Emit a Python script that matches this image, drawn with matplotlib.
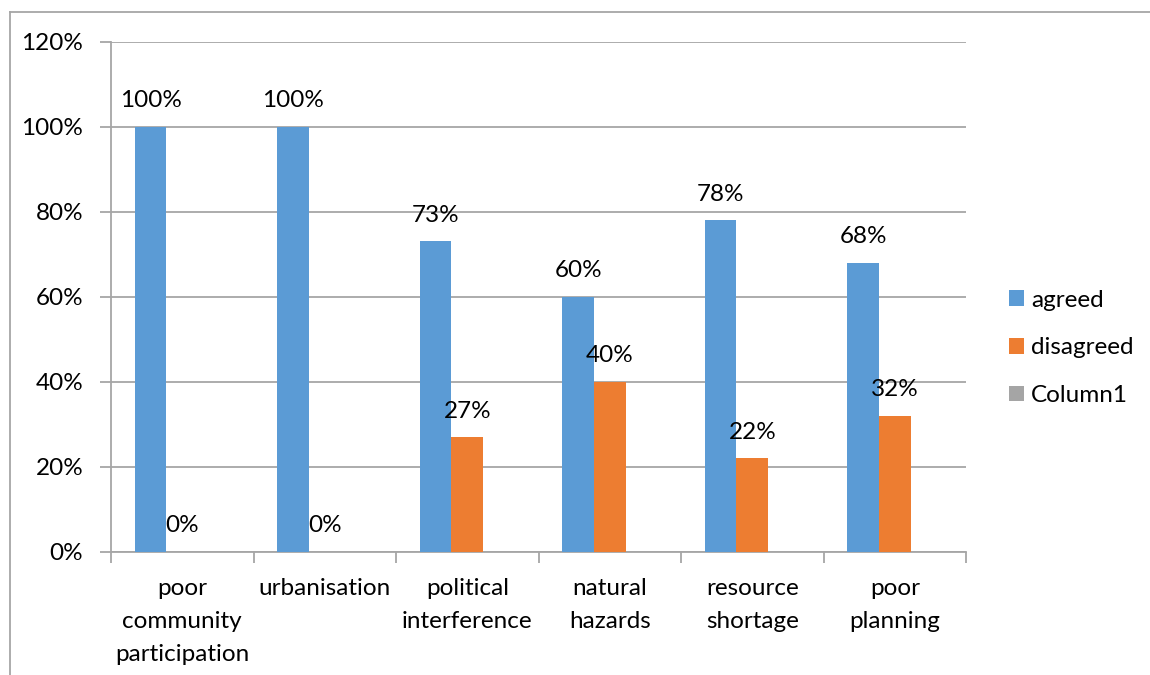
import matplotlib
matplotlib.use("Agg")
import matplotlib.pyplot as plt
from matplotlib.lines import Line2D
from matplotlib.patches import Patch
import numpy as np

plt.rcParams['font.family'] = ['Lato', 'DejaVu Sans']

categories = ["poor\ncommunity\nparticipation", "urbanisation", "political\ninterference",
              "natural\nhazards", "resource\nshortage", "poor\nplanning"]
agreed = [1.00, 1.00, 0.73, 0.60, 0.78, 0.68]
disagreed = [0.00, 0.00, 0.27, 0.40, 0.22, 0.32]
column1 = [0, 0, 0, 0, 0, 0]
series_names = ["agreed", "disagreed", "Column1"]
colors = ["#5B9BD5", "#ED7D31", "#A5A5A5"]
yticks = [0, 0.2, 0.4, 0.6, 0.8, 1.0, 1.2]

FS = 17.5
W, H = 1150, 675
fig = plt.figure(figsize=(W / 100, H / 100), dpi=100)
ax = fig.add_axes([111 / W, 1 - 552 / H, (966 - 111) / W, (552 - 41.5) / H])

x = np.arange(len(categories))
bw = 1 / 4.5
for i, (vals, col) in enumerate(zip([agreed, disagreed, column1], colors)):
    pos = x + (i - 1) * bw
    ax.bar(pos, vals, width=bw, color=col, linewidth=0, zorder=3)
    if i < 2:
        for px, v in zip(pos, vals):
            ax.annotate(f"{v * 100:.0f}%", (px, v), xytext=(0, 26), textcoords="offset pixels",
                        ha="center", va="center", fontsize=FS, color="black", zorder=5)

ax.set_xlim(-0.5, len(categories) - 0.5)
ax.set_ylim(0, 1.2)
ax.set_yticks(yticks)
ax.set_yticklabels([f"{t * 100:.0f}%" for t in yticks], fontsize=FS)
ax.yaxis.grid(True, color="#A6A6A6", linewidth=1.3, zorder=0)
ax.set_axisbelow(True)

ax.set_xticks(x)
ax.set_xticklabels(categories, fontsize=FS, linespacing=1.68)
ax.set_xticks(np.arange(-0.5, len(categories)), minor=True)
ax.tick_params(axis="x", which="major", length=0, pad=19)
ax.tick_params(axis="x", which="minor", length=8, width=1.3, color="#A6A6A6", direction="out")
ax.tick_params(axis="y", length=8, width=1.3, color="#A6A6A6", pad=12)

for s in ["top", "right"]:
    ax.spines[s].set_visible(False)
for s in ["left", "bottom"]:
    ax.spines[s].set_color("#A6A6A6")
    ax.spines[s].set_linewidth(1.3)

# outer chart border
fig.add_artist(Line2D([9.5 / W, 9.5 / W], [0, 1 - 12 / H], transform=fig.transFigure,
                      color="#A6A6A6", linewidth=1.3))
fig.add_artist(Line2D([9.5 / W, 1], [1 - 12 / H, 1 - 12 / H], transform=fig.transFigure,
                      color="#A6A6A6", linewidth=1.3))

handles = [Patch(facecolor=c, edgecolor="none") for c in colors]
fig.legend(handles, series_names, loc="center left", bbox_to_anchor=(997 / W, 1 - 348 / H),
           frameon=False, fontsize=FS, handlelength=0.6, handleheight=0.6,
           handletextpad=0.3, labelspacing=1.1, borderpad=0)

fig.savefig("out.png", dpi=100)
